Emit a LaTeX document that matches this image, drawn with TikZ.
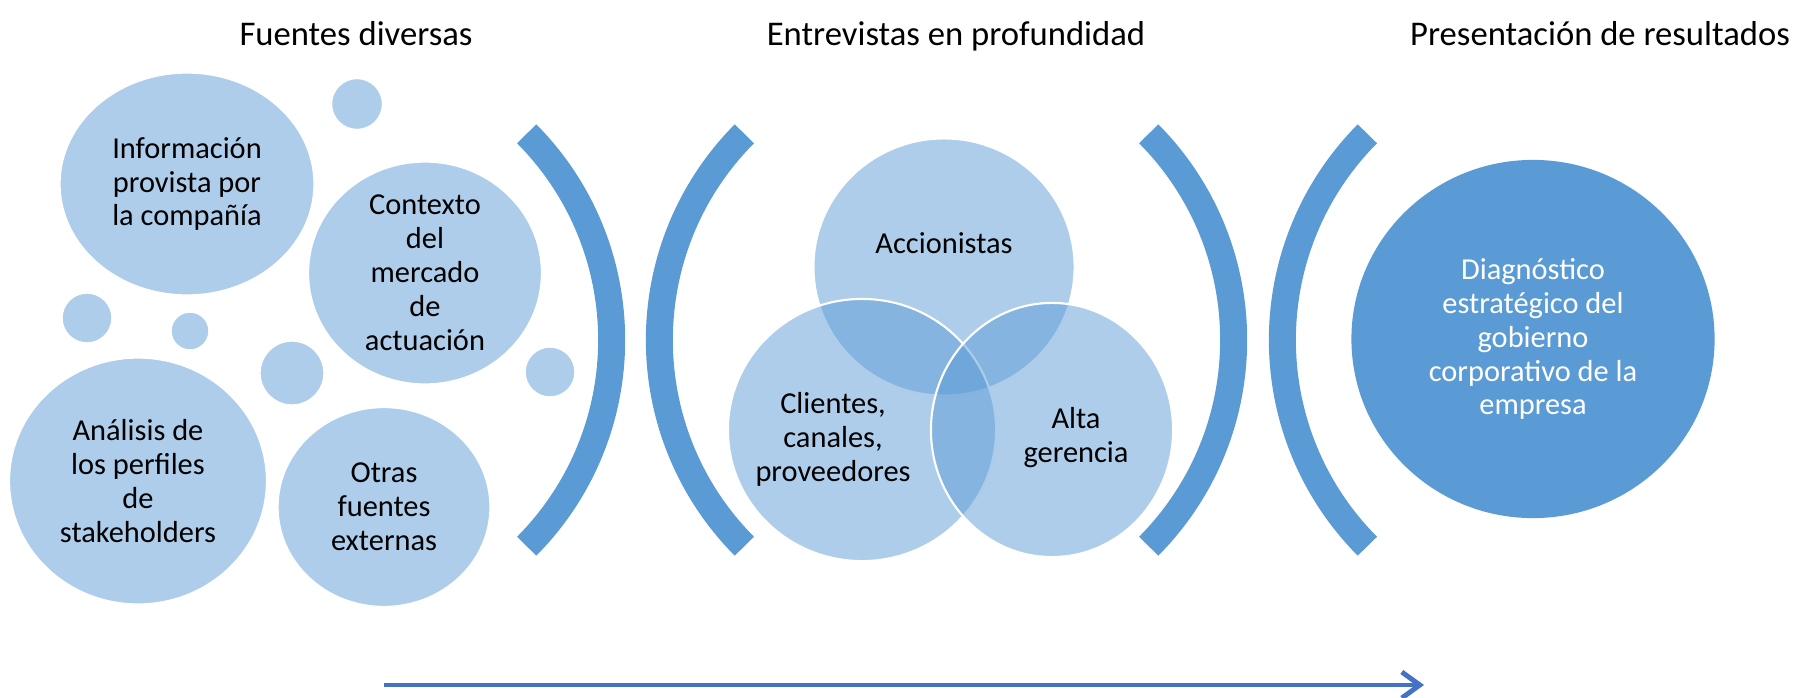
\documentclass[tikz,border=0pt]{standalone}
\usepackage{fontspec}
\setmainfont{Carlito}
\usetikzlibrary{shapes.geometric, arrows.meta, positioning}
\definecolor{accent}{HTML}{5B9BD5}
\definecolor{flowblue}{HTML}{4472C4}

\begin{document}
\begin{tikzpicture}[
        x=0.01cm, y=-0.01cm,
        heading/.style={anchor=base, font=\fontsize{9.85pt}{11pt}\selectfont},
        words/.style={align=center, inner sep=0pt, font=\fontsize{8.65pt}{9.65pt}\selectfont},
        bubble/.style={ellipse, fill=accent!50!white, draw=white, line width=0.4pt, inner sep=0pt},
        venn/.style={ellipse, fill=accent, fill opacity=0.5, draw=white, draw opacity=1, line width=0.6pt, inner sep=0pt},
        result/.style={ellipse, fill=accent, inner sep=0pt},
        bracket/.style={draw=accent, line width=0.27cm},
        flow/.style={draw=flowblue, line width=1.4pt, -{Straight Barb[length=1.8mm, width=2.6mm]}}
    ]
    \useasboundingbox (0,0) rectangle (1798,697);

    % Headings
    \node[heading] (h1) at (356,45) {Fuentes diversas};
    \node[heading] (h2) at (956,45) {Entrevistas en profundidad};
    \node[heading] (h3) at (1600,45) {Presentación de resultados};

    % Brackets
    \coordinate (b1) at (319,340);
    \coordinate (b2) at (952,340);
    \coordinate (b3) at (941,340);
    \coordinate (b4) at (1575,340);
    \draw[bracket] (b1) ++(-44.8:2.925cm) arc[start angle=-44.8, end angle=44.8, radius=2.925cm];
    \draw[bracket] (b2) ++(135.2:2.925cm) arc[start angle=135.2, end angle=224.8, radius=2.925cm];
    \draw[bracket] (b3) ++(-44.8:2.925cm) arc[start angle=-44.8, end angle=44.8, radius=2.925cm];
    \draw[bracket] (b4) ++(135.2:2.925cm) arc[start angle=135.2, end angle=224.8, radius=2.925cm];

    % Sources
    \foreach \name/\x/\y/\d in {d1/357/104/5.1, d2/87/318/5.0, d3/190/331/3.8, d4/292/373/6.4, d5/550/372/5.0}
        \node[bubble, minimum width=\d mm, minimum height=\d mm] (\name) at (\x,\y) {};
    \node[bubble, minimum width=2.54cm, minimum height=2.22cm] (info) at (187,184) {};
    \node[bubble, minimum width=2.33cm, minimum height=2.22cm] (ctx) at (425,273) {};
    \node[bubble, minimum width=2.57cm, minimum height=2.46cm] (stk) at (138,481) {};
    \node[bubble, minimum width=2.12cm, minimum height=1.99cm] (ext) at (384,507) {};
    \node[words] (infot) at (info) {Información\\provista por\\la compañía};
    \node[words] (ctxt) at (ctx) {Contexto\\del\\mercado\\de\\actuación};
    \node[words] (stkt) at (stk) {Análisis de\\los perfiles\\de\\stakeholders};
    \node[words] (extt) at (ext) {Otras\\fuentes\\externas};

    % Interviews
    \node[venn, minimum width=2.61cm, minimum height=2.57cm] (acc) at (944,267) {};
    \node[venn, minimum width=2.68cm, minimum height=2.62cm] (cli) at (862,430) {};
    \node[venn, minimum width=2.42cm, minimum height=2.54cm] (ger) at (1052,430) {};
    \node[words] (acct) at (944,243) {Accionistas};
    \node[words] (clit) at (833,439) {Clientes,\\canales,\\proveedores};
    \node[words] (gert) at (1076,438) {Alta\\gerencia};

    % Result
    \node[result, minimum width=3.63cm, minimum height=3.58cm] (res) at (1533,339) {};
    \node[words, text=white] (rest) at (res) {Diagnóstico\\estratégico del\\gobierno\\corporativo de la\\empresa};

    % Flow arrow
    \coordinate (fa) at (384,685);
    \coordinate (fb) at (1424,685);
    \draw[flow] (fa) -- (fb);
\end{tikzpicture}
\end{document}
